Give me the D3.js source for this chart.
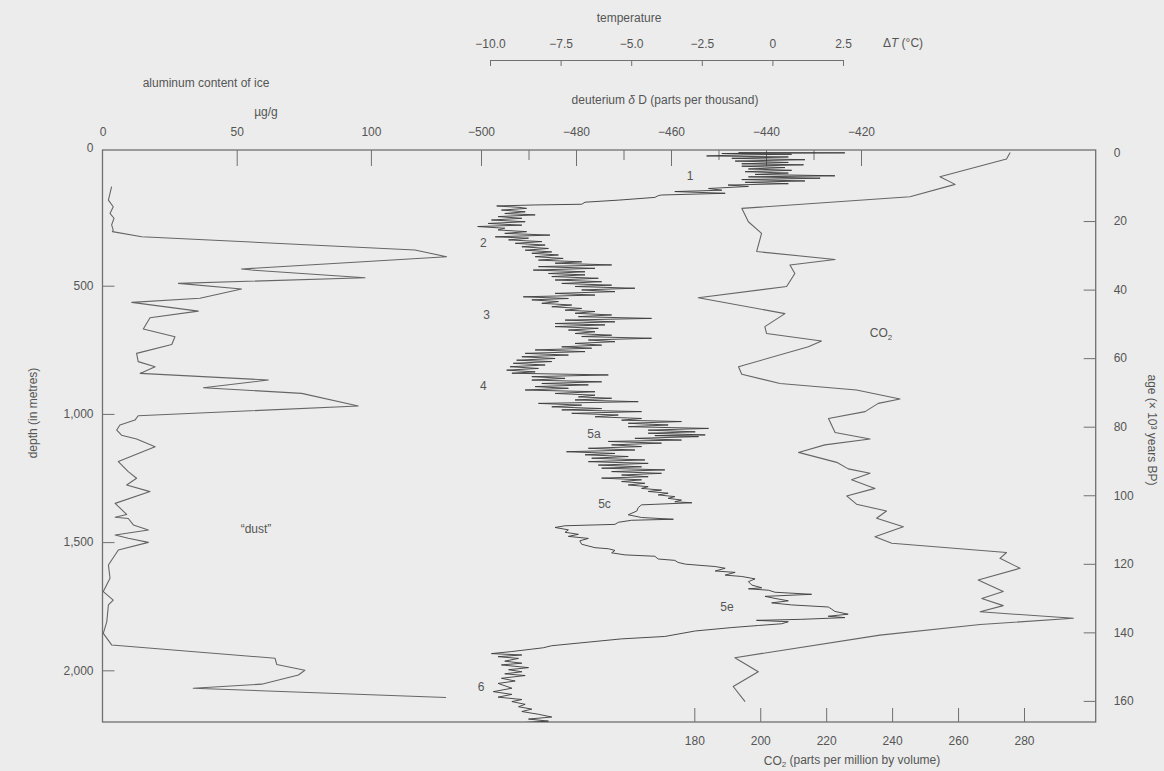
<!DOCTYPE html>
<html>
<head>
<meta charset="utf-8">
<script src="https://cdn.jsdelivr.net/npm/d3@7"></script>
<style>
  html, body { margin: 0; padding: 0; background: #ececec; }
  svg { display: block; }
</style>
</head>
<body>
<svg id="chart" width="1164" height="771"></svg>
<script>
// ---- Vostok ice core: dust, deuterium and CO2 records ----

// aluminium content of ice: [depth (m), µg/g]
const aluminium = [
  [114,3.4],[166,2.2],[192,4.0],[218,2.8],[237,4.3],[263,3.4],[283,4.0],[289,3.7],
  [309,14.6],[361,116.4],[387,128.2],[435,51.8],[439,55.6],[469,97.8],[491,28.3],
  [513,51.8],[549,36.3],[565,10.9],[599,35.7],[625,17.7],[669,15.2],[699,27.0],
  [729,25.8],[764,12.7],[796,13.3],[816,19.6],[842,14.0],[868,61.8],[898,37.6],
  [920,74.2],[969,95.3],[1007,13.3],[1024,12.1],[1043,6.5],[1063,5.3],[1083,7.1],
  [1098,12.7],[1128,19.6],[1186,5.9],[1225,9.6],[1251,12.7],[1277,9.0],[1303,17.7],
  [1349,4.7],[1392,9.0],[1403,4.7],[1408,9.6],[1433,11.5],[1453,17.1],[1472,4.7],
  [1485,9.6],[1501,17.1],[1531,5.9],[1589,2.2],[1641,2.8],[1693,0.3],[1726,4.0],
  [1745,2.2],[1810,1.6],[1856,0.3],[1901,3.4],[1953,64.3],[1977,64.9],[2000,75.4],
  [2018,73.0],[2054,59.3],[2070,33.8],[2106,128]
];

// deuterium δD: [age (kyr BP), ‰]
const deuterium = [
  [0.0,-445.8],[0.1,-423.4],[0.3,-449.3],[0.5,-434.6],[0.7,-444.4],[1.0,-452.5],
  [1.3,-435.3],[1.7,-447.2],[2.1,-431.8],[2.5,-446.5],[2.9,-435.3],[3.3,-445.1],
  [3.6,-432.1],[4.0,-445.1],[4.4,-436.0],[4.8,-443.7],[5.2,-434.6],[5.6,-444.4],
  [6.0,-435.3],[6.4,-442.3],[6.8,-425.5],[7.1,-443.7],[7.5,-428.6],[7.9,-445.1],
  [8.3,-431.8],[8.7,-444.4],[9.1,-435.3],[9.5,-448.0],[9.9,-443.7],[10.5,-452.1],
  [11.0,-449.3],[11.4,-459.2],[11.9,-448.6],[12.4,-462.0],[12.6,-462.7],[13.1,-463.4],
  [13.9,-471.1],[14.5,-478.1],[15.1,-478.8],[15.3,-488.6],[15.6,-496.7],
  [16.0,-492.0],[16.3,-490.4],[16.8,-495.7],[17.3,-490.7],[17.8,-495.0],[18.2,-488.6],
  [18.7,-496.4],[19.2,-491.4],[19.7,-497.8],[20.2,-490.7],[20.7,-498.5],[21.2,-491.4],
  [21.6,-500.7],[22.1,-495.0],[22.6,-496.4],[23.1,-490.4],[23.6,-495.0],[24.1,-485.5],
  [24.6,-497.0],[25.0,-490.0],[25.5,-494.2],[26.0,-487.2],[26.5,-492.8],[27.0,-486.5],
  [27.5,-491.4],[28.0,-485.8],[28.5,-490.7],[29.0,-485.1],[29.4,-489.3],[29.9,-483.7],
  [30.4,-488.6],[30.9,-482.7],[31.4,-487.9],[31.9,-478.8],[32.3,-484.4],[32.8,-472.5],
  [33.3,-487.9],[33.8,-476.0],[34.3,-489.0],[34.8,-478.1],[35.3,-485.8],[35.7,-478.1],
  [36.2,-485.1],[36.7,-475.3],[37.2,-484.4],[37.7,-474.6],[38.2,-483.0],[38.7,-472.5],
  [39.1,-480.2],[39.6,-467.6],[40.1,-478.8],[40.6,-471.8],[41.1,-484.4],[41.6,-476.0],
  [42.1,-491.1],[42.6,-481.6],[43.0,-489.3],[43.5,-483.7],[44.0,-487.2],[44.5,-480.9],
  [45.0,-485.1],[45.5,-478.8],[46.0,-482.3],[46.4,-476.0],[46.9,-480.2],[47.4,-472.5],
  [47.9,-479.5],[48.4,-464.1],[48.9,-482.3],[49.4,-471.8],[49.9,-484.4],[50.3,-473.9],
  [50.8,-484.4],[51.3,-475.3],[51.8,-481.6],[52.3,-476.0],[52.8,-480.2],[53.3,-472.5],
  [53.7,-478.8],[54.2,-464.1],[54.7,-477.4],[55.2,-471.8],[55.7,-480.2],[56.2,-474.6],
  [56.7,-483.0],[57.1,-476.7],[57.6,-488.6],[58.1,-478.1],[58.6,-490.7],[59.1,-481.6],
  [59.6,-491.4],[60.1,-484.4],[60.6,-492.5],[61.0,-485.1],[61.5,-493.2],[62.0,-486.5],
  [62.5,-493.9],[63.0,-487.9],[63.5,-494.6],[64.0,-488.6],[64.4,-493.5],[64.9,-473.2],
  [65.4,-489.3],[65.9,-482.3],[66.4,-489.3],[66.9,-474.6],[67.4,-487.2],[67.8,-477.4],
  [68.3,-488.6],[68.8,-481.6],[69.3,-490.7],[69.8,-476.0],[70.3,-484.4],[70.8,-476.0],
  [71.3,-479.5],[71.7,-472.5],[72.2,-480.2],[72.7,-466.9],[73.2,-487.9],[73.7,-478.8],
  [74.2,-485.1],[74.7,-474.6],[75.1,-483.0],[75.6,-466.2],[76.1,-480.9],[76.6,-471.1],
  [77.1,-476.0],[77.6,-466.2],[78.1,-470.4],[78.5,-457.8],[79.0,-469.0],[79.5,-460.6],
  [80.0,-469.0],[80.5,-452.1],[81.0,-464.8],[81.5,-454.9],[81.9,-464.8],[82.4,-452.8],
  [82.6,-463.4],[82.9,-454.2],[83.4,-467.6],[83.9,-457.8],[84.3,-473.2],[84.8,-462.0],
  [85.3,-472.5],[85.8,-466.2],[86.3,-477.4],[86.8,-467.6],[87.3,-482.0],[87.8,-471.8],
  [88.2,-478.1],[88.7,-469.0],[89.2,-476.7],[89.7,-465.5],[90.2,-477.4],[90.7,-464.8],
  [91.2,-475.3],[91.7,-466.2],[92.1,-474.6],[92.6,-461.3],[93.1,-472.5],[93.6,-462.0],
  [94.1,-470.4],[94.6,-464.8],[95.0,-474.6],[95.5,-466.2],[96.0,-470.4],[96.5,-465.5],
  [97.0,-469.0],[97.5,-464.8],[98.0,-466.2],[98.5,-462.0],[98.9,-464.8],[99.4,-460.6],
  [99.9,-462.7],[100.4,-459.2],[100.9,-460.6],[101.4,-457.8],[101.9,-459.2],[102.2,-455.6],
  [102.8,-466.2],[103.6,-466.9],[104.6,-467.2],[105.7,-469.0],[106.5,-466.2],[107.0,-459.5],
  [107.3,-468.3],[107.9,-471.1],[108.5,-471.8],[108.9,-482.3],[109.4,-484.4],[110.1,-481.6],
  [110.8,-482.3],[111.4,-479.5],[112.0,-481.6],[112.6,-477.4],[113.3,-479.2],[114.3,-478.8],
  [115.3,-476.0],[115.6,-473.2],[116.1,-471.8],[116.8,-472.5],[117.4,-469.7],[117.8,-463.4],
  [118.6,-462.7],[119.0,-459.2],[119.6,-458.5],[120.1,-457.0],[120.8,-450.7],[121.3,-448.6],
  [122.1,-450.7],[122.5,-446.5],[123.3,-448.6],[123.7,-445.1],[124.4,-442.3],[125.2,-443.7],
  [126.2,-443.0],[127.0,-440.9],[127.3,-443.7],[127.7,-439.5],[128.3,-438.1],[128.9,-430.4],
  [129.5,-440.2],[130.1,-438.1],[130.8,-435.3],[131.4,-438.8],[132.0,-434.6],[132.6,-426.9],
  [133.2,-426.2],[133.9,-425.5],[134.7,-422.7],[135.3,-426.9],[135.7,-423.4],[136.2,-432.5],
  [136.5,-442.0],[136.9,-435.3],[137.5,-436.7],[138.0,-441.6],[138.6,-447.2],[139.6,-454.9],
  [141.2,-461.3],[141.9,-470.4],[143.9,-485.1],[144.5,-486.9],[144.9,-489.3],[145.6,-493.5],
  [146.2,-497.8],[146.6,-491.4],[147.1,-496.4],[147.6,-492.1],[148.4,-495.0],[149.0,-491.4],
  [149.5,-495.7],[150.3,-490.0],[150.9,-494.2],[151.5,-491.4],[152.1,-495.0],[152.6,-490.7],
  [153.4,-495.7],[154.2,-492.8],[154.9,-496.4],[156.3,-493.5],[157.3,-497.4],[158.1,-493.5],
  [158.9,-496.4],[159.6,-491.4],[160.2,-493.5],[161.0,-490.7],[161.7,-492.1],[162.4,-489.3],
  [163.1,-491.4],[163.9,-487.9],[164.7,-485.1],[165.3,-490.0],[165.9,-485.8],[166.3,-490.7]
];

// CO2: [age (kyr BP), ppmv]
const co2 = [
  [0,275.8],[1.9,274.7],[7.1,254.5],[9.3,259.1],[12.9,245.4],[16.3,194.4],[20.2,196.4],
  [23.6,200.4],[28.9,198.9],[31.2,222.7],[32.8,209.0],[35.3,210.5],[39.1,208.0],
  [42.4,181.2],[47.0,207.5],[50.8,201.4],[52.8,201.9],[55.0,218.6],[56.7,214.6],
  [62.5,193.4],[64.7,194.4],[67.4,206.0],[69.3,229.2],[71.9,242.4],[73.2,235.8],
  [75.6,231.8],[77.6,220.7],[81.7,222.7],[83.6,233.3],[85.3,219.6],[87.5,211.6],
  [90.4,223.2],[92.3,226.7],[93.6,233.3],[95.5,227.7],[98.0,234.8],[100.2,226.2],
  [102.6,229.2],[104.6,238.3],[106.7,235.3],[109.2,243.4],[112.1,234.8],[114.0,239.9],
  [116.7,274.7],[118.4,272.7],[121.3,278.8],[124.7,266.1],[128.1,273.7],[130.1,267.2],
  [132.2,273.7],[134.0,266.7],[135.9,295.0],[137.7,266.7],[140.8,236.3],[147.4,192.3],
  [151.5,199.4],[155.8,191.8],[160.2,195.4]
];

// tick values
const tempTicks = [-10, -7.5, -5, -2.5, 0, 2.5];
const alTicks = [0, 50, 100];
const ddMajorTicks = [-500, -480, -460, -440, -420];
const ddMinorTicks = [-490, -470, -450, -430];
const depthTicks = [500, 1000, 1500, 2000];
const ageTicks = [0, 20, 40, 60, 80, 100, 120, 140, 160];
const co2Ticks = [180, 200, 220, 240, 260, 280];

// stage annotations on the deuterium curve: [label, age, δD]
const stageLabels = [
  ["1", 6.9, -456], ["2", 26.3, -499.5], ["3", 47.3, -498.8], ["4", 68.1, -499.5],
  ["5a", 82.1, -476.2], ["5c", 102.5, -474.0], ["5e", 132.6, -448.2], ["6", 155.9, -500.0]
];

// ---- drawing ----
const FONT = '"Liberation Sans", Arial, Helvetica, sans-serif';
const TEXT = "#555";
const LINE = "#707070";

const svg = d3.select("#chart");
svg.append("rect").attr("width", 1164).attr("height", 771).attr("fill", "#ececec");

const frame = { left: 102.5, right: 1095.7, top: 150, bottom: 722 };

const yDepth = d3.scaleLinear().domain([0, 2200]).range([157.5, 721.6]);
const yAge = d3.scaleLinear().domain([0, 160]).range([152.5, 700.9]);
const xAl = d3.scaleLinear().domain([0, 100]).range([102.5, 370.9]);
const xDD = d3.scaleLinear().domain([-500, -420]).range([481, 861]);
const xCO2 = d3.scaleLinear().domain([180, 280]).range([694.3, 1024]);
const xTemp = d3.scaleLinear().domain([-10, 2.5]).range([490, 843]);

function styleAxis(g, keepDomain) {
  g.attr("font-size", 12).attr("font-family", FONT);
  g.selectAll("text").attr("fill", TEXT);
  g.selectAll("line").attr("stroke", LINE).attr("stroke-width", 1);
  if (keepDomain) g.select(".domain").attr("stroke", LINE).attr("stroke-width", 1);
  else g.select(".domain").remove();
}

// temperature scale (bracketed, above the plot)
const tempFmt = d => d === 0 ? "0" : d3.format(".1f")(d);
svg.append("g")
  .attr("transform", "translate(0,60)")
  .call(d3.axisTop(xTemp).tickValues(tempTicks).tickSize(-6).tickSizeOuter(-6)
    .tickPadding(12).tickFormat(tempFmt))
  .call(g => styleAxis(g, true));

// aluminium scale on the top frame
svg.append("g")
  .attr("transform", `translate(0,${frame.top})`)
  .call(d3.axisTop(xAl).tickValues(alTicks).tickSize(-16).tickPadding(14))
  .call(g => styleAxis(g, false))
  .call(g => g.selectAll(".tick").filter(d => d === 0).select("line").remove());

// deuterium scale on the top frame
svg.append("g")
  .attr("transform", `translate(0,${frame.top})`)
  .call(d3.axisTop(xDD).tickValues(ddMajorTicks).tickSize(-16).tickPadding(14))
  .call(g => styleAxis(g, false));
svg.append("g")
  .attr("transform", `translate(0,${frame.top})`)
  .call(d3.axisTop(xDD).tickValues(ddMinorTicks).tickSize(-10).tickFormat(""))
  .call(g => styleAxis(g, false));

// depth scale (left)
svg.append("g")
  .attr("transform", `translate(${frame.left},0)`)
  .call(d3.axisLeft(yDepth).tickValues(depthTicks).tickSize(-12).tickPadding(9)
    .tickFormat(d3.format(",")))
  .call(g => styleAxis(g, false));
svg.append("text").attr("x", frame.left - 9).attr("y", frame.top - 2).attr("dy", "0.32em")
  .attr("text-anchor", "end").attr("font-size", 12).attr("font-family", FONT)
  .attr("fill", TEXT).text("0");

// age scale (right)
svg.append("g")
  .attr("transform", `translate(${frame.right},0)`)
  .call(d3.axisRight(yAge).tickValues(ageTicks).tickSize(-12).tickPadding(18))
  .call(g => styleAxis(g, false))
  .call(g => g.selectAll(".tick").filter(d => d === 0).select("line").remove());

// CO2 scale (bottom)
svg.append("g")
  .attr("transform", `translate(0,${frame.bottom})`)
  .call(d3.axisBottom(xCO2).tickValues(co2Ticks).tickSize(-14).tickPadding(14))
  .call(g => styleAxis(g, false));

// plot frame
svg.append("rect")
  .attr("x", frame.left).attr("y", frame.top)
  .attr("width", frame.right - frame.left).attr("height", frame.bottom - frame.top)
  .attr("fill", "none").attr("stroke", LINE).attr("stroke-width", 1.3);

svg.append("clipPath").attr("id", "plot-clip")
  .append("rect")
  .attr("x", frame.left).attr("y", frame.top)
  .attr("width", frame.right - frame.left).attr("height", frame.bottom - frame.top);

const plot = svg.append("g").attr("clip-path", "url(#plot-clip)");

// dust curve
plot.append("path")
  .datum(aluminium)
  .attr("fill", "none").attr("stroke", "#666").attr("stroke-width", 1.1)
  .attr("stroke-linejoin", "round")
  .attr("d", d3.line().x(d => xAl(d[1])).y(d => yDepth(d[0])));

// deuterium curve
plot.append("path")
  .datum(deuterium)
  .attr("fill", "none").attr("stroke", "#3a3a3a").attr("stroke-width", 0.9)
  .attr("stroke-linejoin", "miter")
  .attr("d", d3.line().x(d => xDD(d[1])).y(d => yAge(d[0])));

// CO2 curve
plot.append("path")
  .datum(co2)
  .attr("fill", "none").attr("stroke", "#666").attr("stroke-width", 1.1)
  .attr("stroke-linejoin", "round")
  .attr("d", d3.line().x(d => xCO2(d[1])).y(d => yAge(d[0])));

// ---- text ----
function label(x, y, str, opts = {}) {
  const t = svg.append("text")
    .attr("x", x).attr("y", y).attr("dy", "0.35em")
    .attr("text-anchor", opts.anchor || "middle")
    .attr("font-size", opts.size || 12).attr("font-family", FONT)
    .attr("fill", TEXT);
  if (opts.rotate) t.attr("transform", `rotate(${opts.rotate},${x},${y})`);
  if (str !== null) t.text(str);
  return t;
}

label(629, 18, "temperature");
const dT = label(903, 43, null);
dT.append("tspan").text("Δ");
dT.append("tspan").attr("font-style", "italic").text("T");
dT.append("tspan").text(" (°C)");

label(206, 83, "aluminum content of ice");
label(266, 112, "µg/g");

const dd = label(665, 100, null);
dd.append("tspan").text("deuterium ");
dd.append("tspan").attr("font-style", "italic").text("δ");
dd.append("tspan").text(" D (parts per thousand)");

label(33, 413, "depth (in metres)", { rotate: -90 });
label(1152, 430, "age (× 10³ years BP)", { rotate: 90 });

const co2Title = label(852, 761, null);
co2Title.append("tspan").text("CO");
co2Title.append("tspan").attr("font-size", 8).attr("dy", "0.2em").text("2");
co2Title.append("tspan").attr("dy", "-0.2em").text(" (parts per million by volume)");

const co2Tag = label(881, 333, null);
co2Tag.append("tspan").text("CO");
co2Tag.append("tspan").attr("font-size", 8).attr("dy", "0.3em").text("2");

label(256, 529, "“dust”");

stageLabels.forEach(([s, age, v]) => label(xDD(v), yAge(age), s));
</script>
</body>
</html>
